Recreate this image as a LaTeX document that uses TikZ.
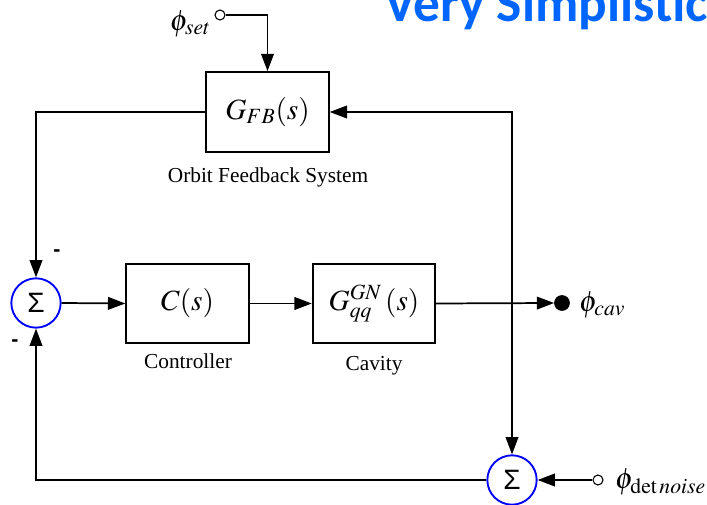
\documentclass[tikz,border=0pt]{standalone}
\usepackage{mathptmx}
\usepackage[no-math]{fontspec}
\setmainfont{Liberation Serif}
\newfontfamily\titlefont{Carlito}
\newfontfamily\sumfont{Liberation Sans}
\newfontfamily\capfont{Liberation Serif}
\usetikzlibrary{arrows.meta, positioning}
\definecolor{titleblue}{RGB}{0,102,255}
\definecolor{sumblue}{RGB}{0,0,255}

\begin{document}
\begin{tikzpicture}[x=0.75pt, y=-0.75pt, line width=1.3pt,
  >={Triangle[length=13pt,width=9.5pt]},
  block/.style={draw, line width=1.3pt, minimum width=92pt, minimum height=59pt,
                inner sep=0pt, font=\fontsize{22}{26}\selectfont},
  sumnode/.style={draw=sumblue, circle, line width=1.4pt, minimum size=37pt,
                  inner sep=0pt, font=\sumfont\fontsize{21}{24}\selectfont},
  port/.style={draw, circle, line width=0.8pt, minimum size=7.5pt, inner sep=0pt},
  caption/.style={font=\capfont\fontsize{16}{18}\selectfont},
  sig/.style={font=\fontsize{22}{26}\selectfont},
  minus/.style={font=\sumfont\bfseries\fontsize{16}{18}\selectfont}]

  \useasboundingbox (0,0) rectangle (707,505);
  \clip (0,0) rectangle (707,505);

  % title, cut off at the page edge
  \node[anchor=base west, inner sep=0pt, text=titleblue,
        font=\titlefont\bfseries\fontsize{40}{42}\selectfont] (title) at (384,22) {Very Simplistic};

  % blocks
  \node[block, minimum height=60pt] (gfb)  at (267.5,112) {$G_{FB}(s)$};
  \node[block] (ctrl) at (187.5,303.5) {$C(s)$};
  \node[block] (cav)  at (374,303.5) {$G_{qq}^{GN}\,(s)$};

  \node[caption] (gfbcap)  at (268,177) {Orbit Feedback System};
  \node[caption] (ctrlcap) at (188,361) {Controller};
  \node[caption] (cavcap)  at (374,366) {Cavity};

  % summing points
  \node[sumnode] (sum1) at (36,303) {Σ};
  \node[sumnode] (sum2) at (512,480) {Σ};
  \node[minus] (m1) at (57,253) {-};
  \node[minus] (m2) at (15,343) {-};

  % in- and outputs
  \node[port] (setin) at (220,15) {};
  \node[sig, anchor=east, inner sep=1pt] (setlbl) at (213,24) {$\phi_{set}$};
  \node[draw, fill, circle, minimum size=10.5pt, inner sep=0pt] (cavout) at (562,303) {};
  \node[sig, anchor=west, inner sep=1pt] (cavlbl) at (577,305) {$\phi_{cav}$};
  \node[port] (noisein) at (598,480) {};
  \node[sig, anchor=west, inner sep=1pt] (noiselbl) at (613,482) {$\phi_{\mathrm{det}\,noise}$};

  \coordinate (tap) at (512,303);

  % connections
  \draw[->] (setin.east) -| (gfb.north);
  \draw[->] (gfb.west) -| (sum1.north);
  \draw[->] (sum1.east) -- (ctrl.west);
  \draw[->] (ctrl.east) -- (cav.west);
  \draw[->] (cav.east) -- (cavout.west);
  \draw[->] (tap) |- (gfb.east);
  \draw[->] (tap) -- (sum2.north);
  \draw[->] (noisein.west) -- (sum2.east);
  \draw[->] (sum2.west) -| (sum1.south);
\end{tikzpicture}
\end{document}
